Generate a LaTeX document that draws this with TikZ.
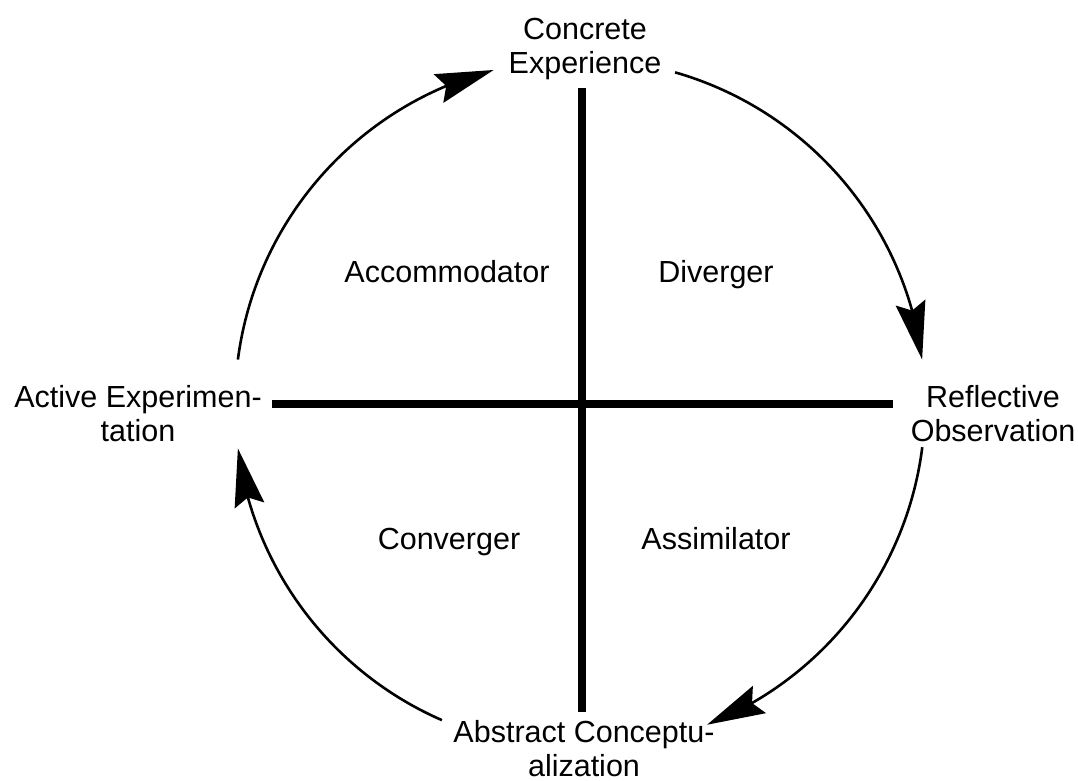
\documentclass[tikz,border=0pt]{standalone}
\usepackage{fontspec}
\setmainfont{Liberation Sans}
\usetikzlibrary{arrows.meta,bending,calc}
\tikzset{
  lbl/.style={font=\fontsize{30.5}{34}\selectfont, align=center, inner sep=0pt},
  qlbl/.style={font=\fontsize{30.5}{34}\selectfont, inner sep=0pt, anchor=base},
  axis/.style={line width=8pt},
  cyc/.style={line width=2.6pt, -{Stealth[length=58pt,width=30pt,inset=8pt]}},
}
\begin{document}
\begin{tikzpicture}[x=1pt,y=1pt]
\useasboundingbox (0,0) rectangle (1078,780);
\coordinate (C) at (580,376);
% labels
\node[lbl] (ce) at (585,731) {Concrete\\Experience};
\node[lbl] (ro) at (993,366) {Reflective\\Observation};
\node[lbl] (ac) at (584,31) {Abstract Conceptu-\\alization};
\node[lbl] (ae) at (138,366) {Active Experimen-\\tation};
\node[qlbl] (acc) at (447,497) {Accommodator};
\node[qlbl] (div) at (716,497) {Diverger};
\node[qlbl] (con) at (449,231) {Converger};
\node[qlbl] (ass) at (716,231) {Assimilator};
% axes
\coordinate (top) at (582,692);
\coordinate (bot) at (582,68);
\coordinate (lft) at (272,376);
\coordinate (rgt) at (893,376);
\draw[axis] (top) -- (bot);
\draw[axis] (lft) -- (rgt);
% cycle arcs
\coordinate (s1) at ($(C)+(172.6:345)$);
\coordinate (s2) at ($(C)+(74:345)$);
\coordinate (s3) at ($(C)+(-7.2:345)$);
\coordinate (s4) at ($(C)+(-113.6:345)$);
\draw[cyc] (s1) arc[start angle=172.6, end angle=104.5, radius=345];
\draw[cyc] (s2) arc[start angle=74, end angle=7.4, radius=345];
\draw[cyc] (s3) arc[start angle=-7.2, end angle=-68.4, radius=345];
\draw[cyc] (s4) arc[start angle=-113.6, end angle=-172.6, radius=345];
\end{tikzpicture}
\end{document}
